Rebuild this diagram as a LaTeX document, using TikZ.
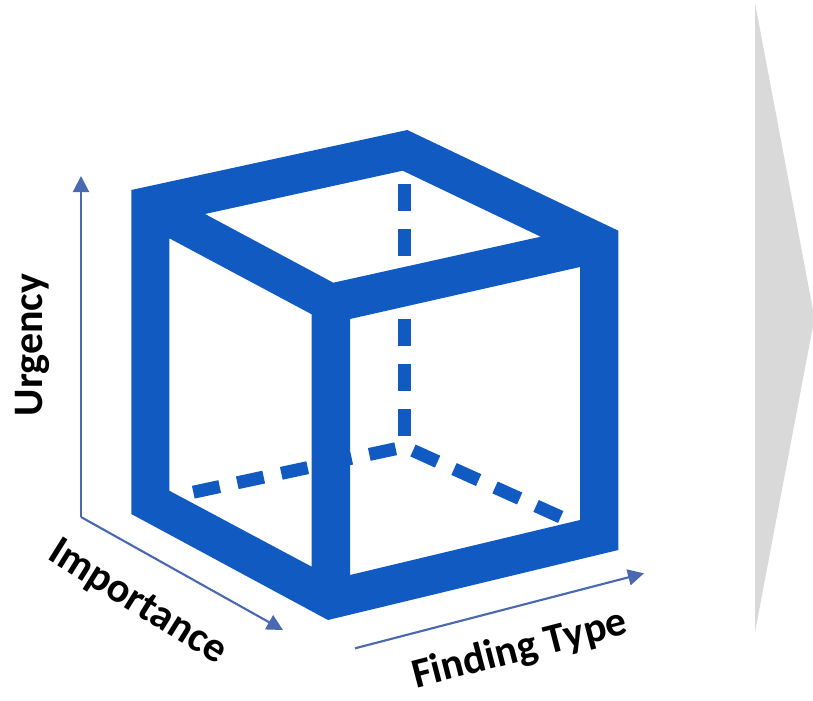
\documentclass[tikz,border=0pt]{standalone}
\usepackage{fontspec}
\setmainfont{Carlito}
\usetikzlibrary{arrows.meta}
\definecolor{cubeblue}{HTML}{105AC2}
\definecolor{axisblue}{HTML}{4A69B0}
\definecolor{chevgray}{HTML}{D9D9D9}
\tikzset{
  axis/.style={draw=axisblue, line width=1.6pt, -{Triangle[length=12pt,width=12pt]}},
  hidden/.style={draw=cubeblue, line width=9.75pt, dash pattern=on 20.25pt off 13.5pt},
  axlabel/.style={font=\fontsize{31.5}{36}\selectfont\bfseries, inner sep=0pt}
}
\begin{document}
\begin{tikzpicture}[x=0.75pt, y=-0.75pt]
\useasboundingbox (0,0) rectangle (813,700);
% gray chevron
\fill[chevgray] (755,3) -- (813,310) -- (813,326) -- (755,632) -- cycle;
% cube
\fill[cubeblue, even odd rule]
  (131.3,190) -- (407.3,130) -- (618.3,230.7) -- (618.3,550) -- (328,620) -- (131.3,514) -- cycle
  (205,214) -- (402.7,170.7) -- (540.7,236.7) -- (333.3,282.7) -- cycle
  (169.3,238.3) -- (311.7,314.3) -- (311.7,566.7) -- (169.3,490.7) -- cycle
  (350,319) -- (580,267) -- (580,520) -- (350,575) -- cycle;
% hidden edges
\draw[hidden] (404.3,184) -- (404.3,436);
\draw[hidden] (193.3,492.2) -- (396,448.7);
\draw[hidden] (560.7,517) -- (412.7,450.4);
% axes
\coordinate (o) at (81,517);
\coordinate (u) at (81,176);
\coordinate (i) at (283,630);
\coordinate (fs) at (355,648.3);
\coordinate (fe) at (644,573.3);
\draw[axis] (o) -- (u);
\draw[axis] (o) -- (i);
\draw[axis] (fs) -- (fe);
% labels
\node[axlabel, rotate=90] (lu) at (32,345) {Urgency};
\node[axlabel, rotate=-32] (li) at (137,603) {Importance};
\node[axlabel, rotate=14.5] (lf) at (520,650) {Finding Type};
\end{tikzpicture}
\end{document}
